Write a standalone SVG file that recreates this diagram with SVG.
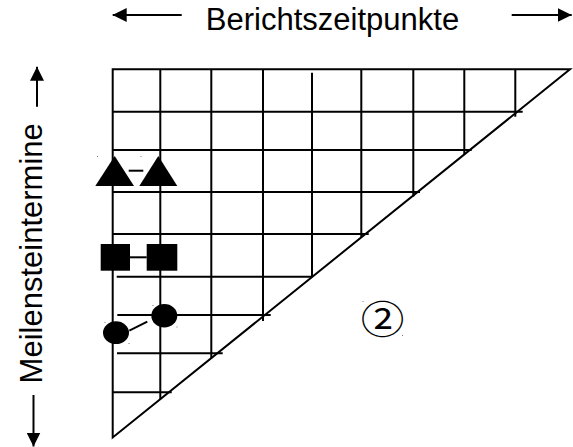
<svg xmlns="http://www.w3.org/2000/svg" width="573" height="447" viewBox="0 0 573 447">
<style>
.ln{stroke:#000;stroke-width:2;fill:none}
.sh{fill:#000;stroke:none}
.lbl{font-family:"Liberation Sans",Arial,sans-serif;font-size:31px;fill:#000}
.dot{fill:#777}
</style>
<defs>
<marker id="ah" markerWidth="14" markerHeight="14" refX="14" refY="7" orient="auto" markerUnits="userSpaceOnUse">
<path d="M0,0 L14,7 L0,14 z" fill="#000"/>
</marker>
</defs>
<rect width="573" height="447" fill="#fff"/>
<g id="grid" class="ln">
<path d="M112.7,69.3 H570 L112.7,437.5 Z"/>
<path d="M160.3,69.3 V399.3 M211.3,69.3 V358.5 M263,69.3 V321 M312,72.7 V277 M361.3,69.3 V237 M413.3,69.3 V196.5 M464.3,69.3 V155 M515.3,69.3 V116.7"/>
<path d="M112.7,111.7 H522.7 M112.7,150 H471.7 M112.7,192 H420 M112.7,234 H368.7 M116.7,276.7 H312 M117.3,315 H270.7 M117,353.3 H222.7 M112.7,392.3 H171.7"/>
</g>
<g id="title">
<text class="lbl" x="332.5" y="29.5" text-anchor="middle">Berichtszeitpunkte</text>
</g>
<g id="ylabel">
<text class="lbl" text-anchor="middle" transform="translate(41.5,253.3) rotate(-90)">Meilensteintermine</text>
</g>
<g id="tri1"><polygon class="sh" points="114.7,156 95.3,186 134,186"/></g>
<g id="tri2"><polygon class="sh" points="158.3,156 139.3,186 177.3,186"/></g>
<g id="sq1"><rect class="sh" x="100.7" y="244" width="29.3" height="26.7"/></g>
<g id="sq2"><rect class="sh" x="146.7" y="244" width="30.6" height="26.7"/></g>
<g id="circ1"><ellipse class="sh" cx="116" cy="332.7" rx="13" ry="11.4"/></g>
<g id="circ2"><ellipse class="sh" cx="164.3" cy="315.7" rx="13" ry="11.7"/></g>
<g id="mark2">
<text x="0" y="0" text-anchor="middle" font-family="'Noto Sans CJK JP','DejaVu Sans',sans-serif" font-size="38" transform="translate(382.5,332.5) scale(1.15,1)">②</text>
</g>
<g id="connectors">
<line class="ln" x1="128.7" y1="170.7" x2="143.3" y2="170.7"/>
<line class="ln" x1="130" y1="257.3" x2="146.7" y2="257.3"/>
<line class="ln" x1="129.3" y1="330.7" x2="147.3" y2="321.7"/>
<line class="ln" x1="181.7" y1="15" x2="112.7" y2="15" marker-end="url(#ah)"/>
<line class="ln" x1="511.7" y1="15" x2="571.7" y2="15" marker-end="url(#ah)"/>
<line class="ln" x1="37" y1="106.7" x2="37" y2="66.7" marker-end="url(#ah)"/>
<line class="ln" x1="33.5" y1="395" x2="33.5" y2="446.5" marker-end="url(#ah)"/>
</g>
<g id="dots">
<rect class="dot" x="97" y="156" width="1" height="1"/>
<rect class="dot" x="140.5" y="156" width="1" height="1"/>
<rect class="dot" x="104.5" y="322" width="1" height="1"/>
<rect class="dot" x="128.5" y="343" width="1" height="1"/>
<rect class="dot" x="152.5" y="305" width="1" height="1"/>
<rect class="dot" x="176.5" y="326.5" width="1" height="1"/>
<rect class="dot" x="362.5" y="301" width="1" height="1"/>
<rect class="dot" x="402" y="335" width="1" height="1"/>
</g>
</svg>
